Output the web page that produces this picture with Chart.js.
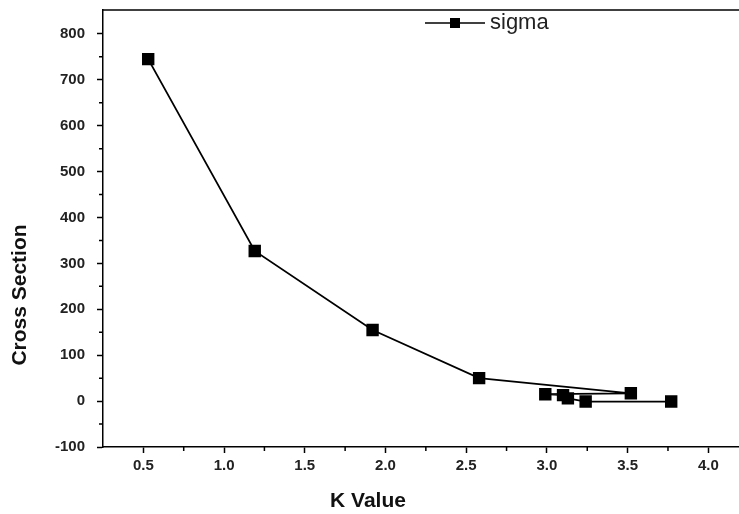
<!DOCTYPE html>
<html>
<head>
<meta charset="utf-8">
<script src="https://cdn.jsdelivr.net/npm/chart.js@4.4.0/dist/chart.umd.min.js"></script>
<style>
    html, body { margin: 0; padding: 0; background: #fff; }
    #wrap { width: 739px; height: 514px; }
</style>
</head>
<body>
<div id="wrap"><canvas id="Chart" width="739" height="514"></canvas></div>
<script>
// данные графика
var kValues = [0.53, 1.19, 1.92, 2.58, 3.52, 2.99, 3.10, 3.13, 3.24, 3.77];
var sigma = [745, 327, 155, 50, 17, 15, 13, 6, -1, -1];
var seriesName = 'sigma';

// подписи осей и деления
var xTicks = [0.5, 1.0, 1.5, 2.0, 2.5, 3.0, 3.5, 4.0];
var xMinorTicks = [0.75, 1.25, 1.75, 2.25, 2.75, 3.25, 3.75];
var yTicks = [-100, 0, 100, 200, 300, 400, 500, 600, 700, 800];
var yMinorTicks = [-50, 50, 150, 250, 350, 450, 550, 650, 750];
var xTitle = 'K Value';
var yTitle = 'Cross Section';

var tickFont = { family: 'Liberation Sans', size: 15, weight: 'bold' };

/**
 * доп. отрисовка: верхняя рамка, малые деления, подписи осей, легенда*/
var framePlugin = {
    id: 'frame',
    afterDraw: function (chart) {
        var ctx = chart.ctx;
        var area = chart.chartArea;
        var xs = chart.scales.x;
        var ys = chart.scales.y;
        ctx.save();
        ctx.strokeStyle = '#000';
        ctx.lineWidth = 1.5;
        ctx.beginPath();
        ctx.moveTo(area.left, area.top);
        ctx.lineTo(area.right, area.top);
        ctx.stroke();

        // малые деления
        ctx.beginPath();
        xMinorTicks.forEach(function (v) {
            var px = xs.getPixelForValue(v);
            ctx.moveTo(px, area.bottom);
            ctx.lineTo(px, area.bottom + 4);
        });
        yMinorTicks.forEach(function (v) {
            var py = ys.getPixelForValue(v);
            ctx.moveTo(area.left, py);
            ctx.lineTo(area.left - 4, py);
        });
        ctx.stroke();

        // подписи осей
        ctx.fillStyle = '#111';
        ctx.font = 'bold 21px "Liberation Sans"';
        ctx.textAlign = 'center';
        ctx.textBaseline = 'middle';
        ctx.fillText(xTitle, 368, 501);
        ctx.translate(20, 295);
        ctx.rotate(-Math.PI / 2);
        ctx.fillText(yTitle, 0, 0);
        ctx.setTransform(1, 0, 0, 1, 0, 0);

        // легенда
        var ly = 23;
        ctx.beginPath();
        ctx.moveTo(425, ly);
        ctx.lineTo(485, ly);
        ctx.lineWidth = 1.5;
        ctx.stroke();
        ctx.fillStyle = '#000';
        ctx.fillRect(450, ly - 5, 10, 10);
        ctx.fillStyle = '#222';
        ctx.font = '22px "Liberation Sans"';
        ctx.textAlign = 'left';
        ctx.fillText(seriesName, 490, ly);
        ctx.restore();
    }
};

var data = {
    datasets: [{
        label: seriesName,
        data: kValues.map(function (k, i) { return { x: k, y: sigma[i] }; }),
        showLine: true,
        borderColor: '#000',
        borderWidth: 1.8,
        backgroundColor: '#000',
        pointStyle: 'rect',
        pointRadius: 7.5,
        pointHoverRadius: 7.5,
        tension: 0
    }]
};

var config = {
    type: 'scatter',
    data: data,
    options: {
        responsive: false,
        animation: false,
        layout: { autoPadding: false, padding: { top: 10, left: 0, right: 0, bottom: 0 } },
        plugins: {
            legend: { display: false },
            tooltip: { enabled: false }
        },
        scales: {
            x: {
                type: 'linear',
                min: 0.25,
                max: 4.19,
                afterBuildTicks: function (scale) {
                    scale.ticks = xTicks.map(function (v) { return { value: v }; });
                },
                afterFit: function (scale) {
                    scale.height = 67;
                    scale.paddingLeft = 0;
                    scale.paddingRight = 0;
                },
                grid: {
                    drawOnChartArea: false,
                    tickLength: 6,
                    tickColor: '#000',
                    tickWidth: 1.5
                },
                border: { display: true, color: '#000', width: 1.5 },
                ticks: {
                    font: tickFont,
                    color: '#222',
                    padding: 4,
                    maxRotation: 0,
                    callback: function (v) { return v.toFixed(1); }
                }
            },
            y: {
                type: 'linear',
                min: -100,
                max: 852,
                afterBuildTicks: function (scale) {
                    scale.ticks = yTicks.map(function (v) { return { value: v }; });
                },
                afterFit: function (scale) {
                    scale.width = 103;
                    scale.paddingTop = 0;
                    scale.paddingBottom = 0;
                },
                grid: {
                    drawOnChartArea: false,
                    tickLength: 6,
                    tickColor: '#000',
                    tickWidth: 1.5
                },
                border: { display: true, color: '#000', width: 1.5 },
                ticks: {
                    font: tickFont,
                    color: '#222',
                    padding: 12,
                    callback: function (v) { return v; }
                }
            }
        }
    },
    plugins: [framePlugin]
};

var myChart = new Chart(document.getElementById('Chart'), config);
</script>
</body>
</html>
